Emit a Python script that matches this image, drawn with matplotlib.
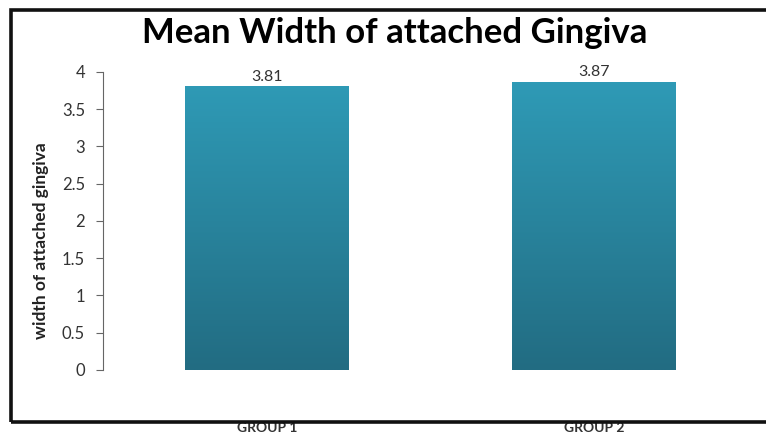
import numpy as np
import matplotlib.pyplot as plt
from matplotlib.patches import Rectangle
from matplotlib.colors import LinearSegmentedColormap

groups = ['GROUP 1', 'GROUP 2']
means = [3.81, 3.87]

plt.rcParams['font.family'] = ['Lato', 'DejaVu Sans']

fig = plt.figure(figsize=(7.66, 4.38), dpi=100)
ax = fig.add_axes([0.1345, 0.1553, 0.855, 0.6804])

# outer frame around the chart
fig.patches.append(Rectangle((11/766, 1-422/438), 1.0, (422-10)/438, transform=fig.transFigure,
                             fill=False, edgecolor='#111111', linewidth=2.6, zorder=0))

x = np.arange(len(groups))
bars = ax.bar(x, means, width=0.5, color='#2a8aa5', zorder=2)

# vertical gradient inside each bar
cmap = LinearSegmentedColormap.from_list('bar', ['#226c82', '#2f9cb8'])
grad = np.linspace(0, 1, 256).reshape(-1, 1)
for b in bars:
    im = ax.imshow(grad, cmap=cmap, aspect='auto', origin='lower',
                   extent=[b.get_x(), b.get_x() + b.get_width(), 0, 4], zorder=3)
    im.set_clip_path(b)

for xi, m in zip(x, means):
    ax.text(xi, m + 0.03, f'{m:.2f}', ha='center', va='bottom', fontsize=11.5, color='#333333')

ax.set_xlim(-0.5, 1.5)
ax.set_ylim(0, 4)
ax.set_yticks(np.arange(0, 4.01, 0.5))
ax.set_yticklabels(['0', '0.5', '1', '1.5', '2', '2.5', '3', '3.5', '4'])
ax.set_xticks(x)
ax.set_xticklabels(groups, fontweight='bold', fontsize=10, color='#333333')
ax.tick_params(axis='x', length=0, pad=37.5)
ax.tick_params(axis='y', length=5, color='#666666', labelsize=12, labelcolor='#333333', pad=8)
for s in ['top', 'right', 'bottom']:
    ax.spines[s].set_visible(False)
ax.spines['left'].set_color('#666666')

ax.set_ylabel('width of attached gingiva', fontsize=12.5, fontweight='bold', color='#222222')
ax.yaxis.set_label_coords(-0.083, 0.433)
fig.text(0.515, 0.925, 'Mean Width of attached Gingiva', fontsize=25, fontweight='bold',
         ha='center', va='center')

fig.savefig('out.png', dpi=100)
